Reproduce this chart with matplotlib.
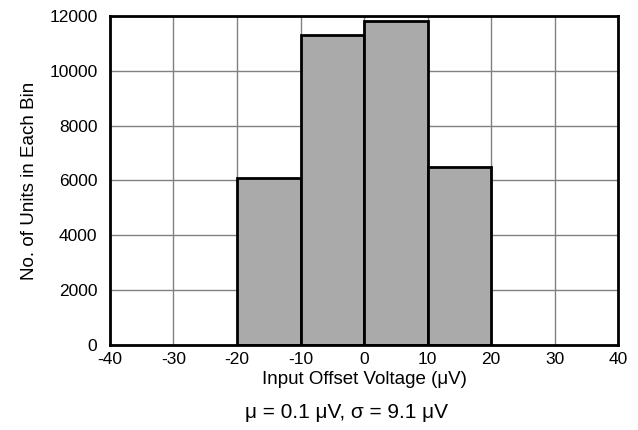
import numpy as np
import matplotlib.pyplot as plt

plt.rcParams['font.family'] = ['Liberation Sans', 'DejaVu Sans']
plt.rcParams['axes.unicode_minus'] = False

# histogram bins (uV) and counts
bin_left = [-20, -10, 0, 10]
bin_width = 10
counts = [6100, 11300, 11800, 6500]

fig = plt.figure(figsize=(6.38, 4.30), dpi=100)
ax = fig.add_axes([0.1724, 0.1977, 0.7963, 0.7651])

ax.bar(bin_left, counts, width=bin_width, align='edge', color='#aaaaaa',
       edgecolor='black', linewidth=2, zorder=3)

ax.set_xlim(-40, 40)
ax.set_ylim(0, 12000)
ax.set_xticks(np.arange(-40, 41, 10))
ax.set_yticks(np.arange(0, 12001, 2000))
ax.grid(True, color='#808080', linewidth=1, zorder=0)
ax.set_axisbelow(True)
ax.tick_params(length=0, labelsize=12.5)
ax.tick_params(axis='x', pad=5)
ax.tick_params(axis='y', pad=9)
for s in ax.spines.values():
    s.set_linewidth(2)
    s.set_zorder(4)

ax.set_xlabel('Input Offset Voltage (μV)', fontsize=13.5, labelpad=3)
ax.set_ylabel('No. of Units in Each Bin', fontsize=13.5)
ax.yaxis.set_label_coords(-0.142, 0.5)
fig.text(346 / 638, 1 - 413 / 430, 'μ = 0.1 μV, σ = 9.1 μV', ha='center', va='center', fontsize=15)

fig.savefig('out.png', dpi=100)
